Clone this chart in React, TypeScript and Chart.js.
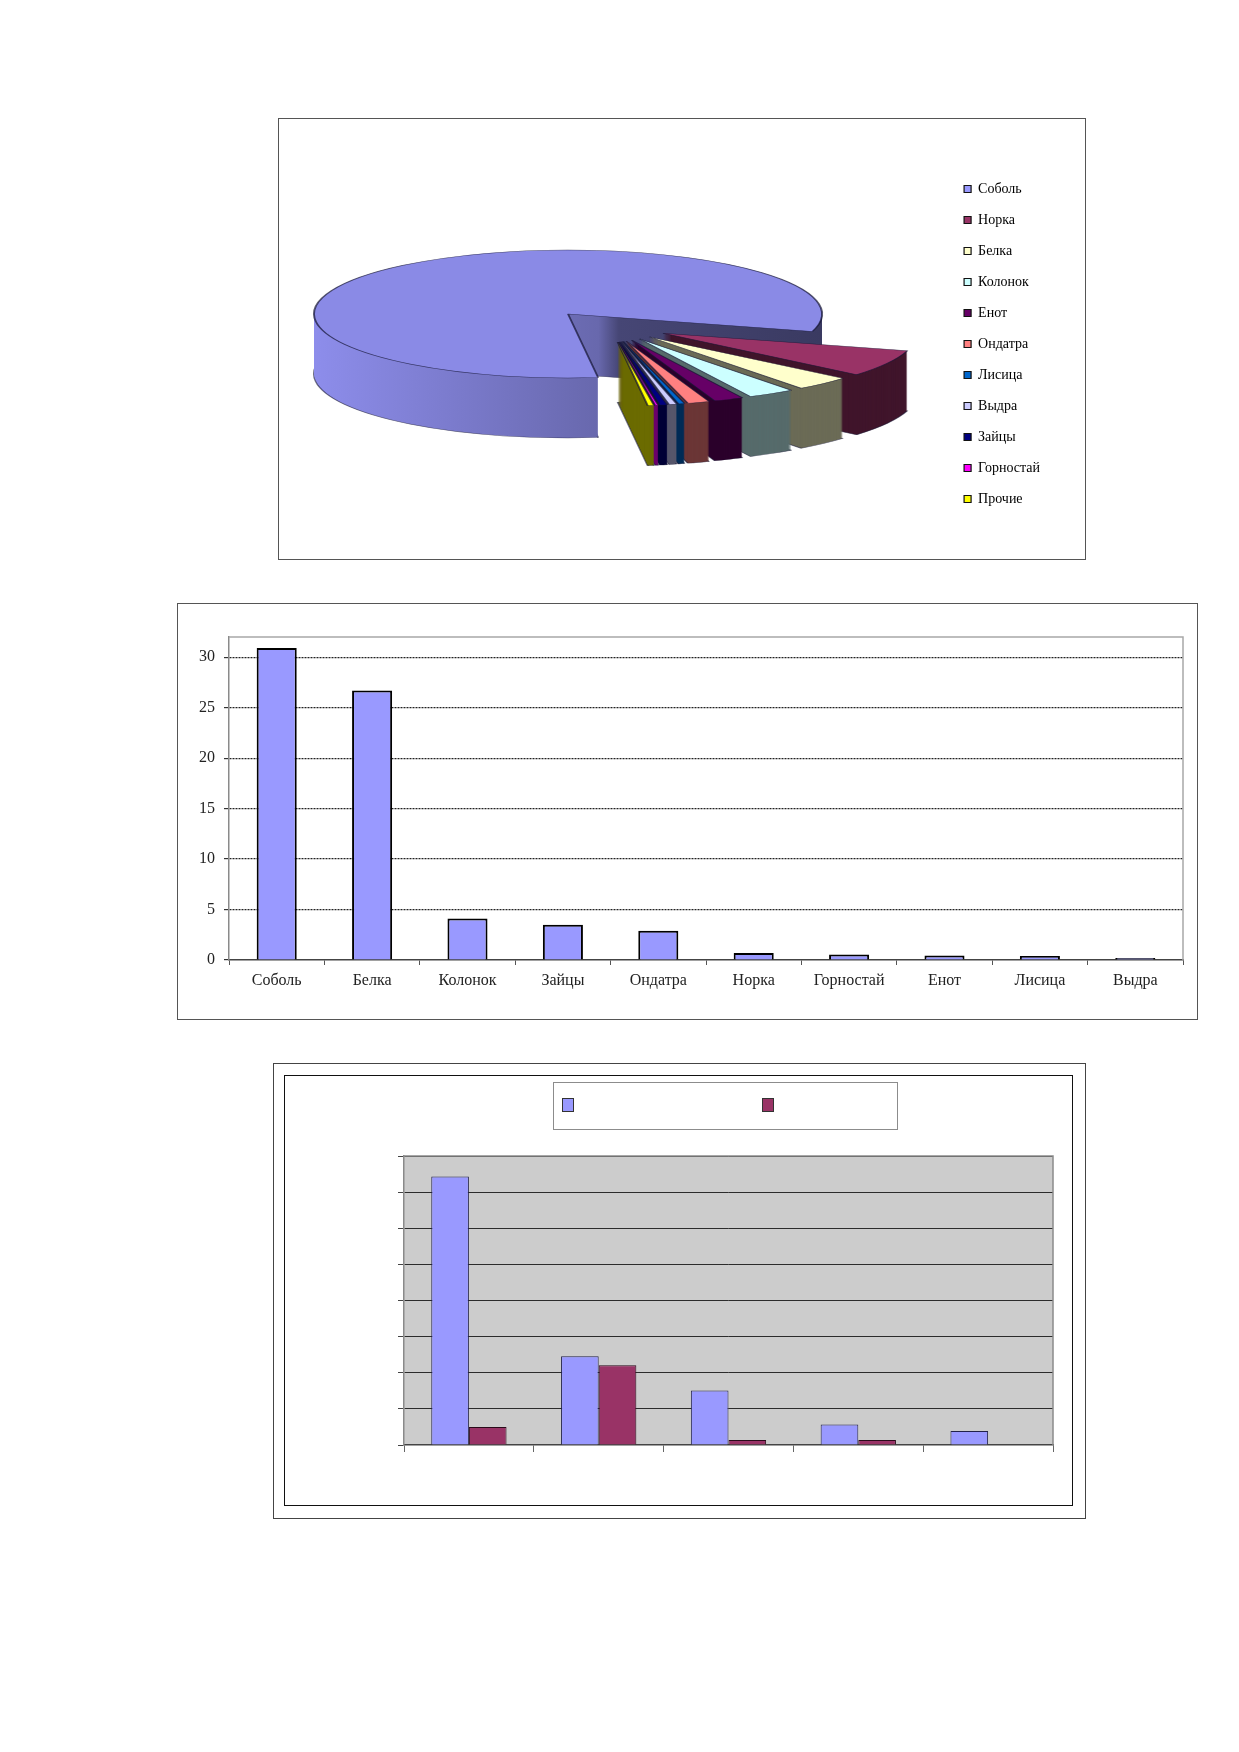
import { useEffect, useRef } from "react";
import type { CSSProperties } from "react";
import { Chart, registerables } from "chart.js";

Chart.register(...registerables);

const FONT = "'Liberation Serif', 'Times New Roman', serif";

// круговая диаграмма: доли видов, %
const pieLabels = ["Соболь", "Норка", "Белка", "Колонок", "Енот", "Ондатра", "Лисица", "Выдра", "Зайцы", "Горностай", "Прочие"];
const pieValues = [81.3, 6.8, 3.6, 3.0, 1.9, 1.4, 0.4, 0.5, 0.5, 0.2, 0.4];
const pieColors = ["#9999FF", "#993366", "#FFFFCC", "#CCFFFF", "#660066", "#FF8080", "#0066CC", "#CCCCFF", "#000080", "#FF00FF", "#FFFF00"];

// столбчатая диаграмма
const barLabels = ["Соболь", "Белка", "Колонок", "Зайцы", "Ондатра", "Норка", "Горностай", "Енот", "Лисица", "Выдра"];
const barValues = [30.9, 26.7, 4.1, 3.5, 2.9, 0.7, 0.55, 0.45, 0.4, 0.2];

// третья диаграмма (подписи в оригинале пропали)
const groupLabels = ["", "", "", "", ""];
const seriesA = [7.43, 2.46, 1.51, 0.57, 0.39];
const seriesB = [0.5, 2.21, 0.14, 0.14, 0];

// 3d look of the pie
const SQUASH = 0.252;
const DEPTH = 60;
const EXPLODE = 122;

function shade(hex: string, f: number) {
  const n = parseInt(hex.slice(1), 16);
  const r = Math.round(((n >> 16) & 255) * f);
  const g = Math.round(((n >> 8) & 255) * f);
  const b = Math.round((n & 255) * f);
  return `rgb(${r},${g},${b})`;
}

const pie3d = {
  id: "pie3d",
  beforeDatasetsDraw(chart: any) {
    const ctx: CanvasRenderingContext2D = chart.ctx;
    const arcs: any[] = chart.getDatasetMeta(0).data;
    if (!arcs.length) return false;
    const cx = arcs[0].x;
    const cy = arcs[0].y;
    const R = arcs[0].outerRadius;
    const topY = cy - DEPTH / 2;
    // exploded slices are pulled out towards the middle of their group (perspective)
    const groupMid = (arcs[1].startAngle + arcs[arcs.length - 1].endAngle) / 2;

    const drawSlice = (i: number, fill: any, stroke: string | null, dy: number) => {
      const arc = arcs[i];
      const mid = (arc.startAngle + arc.endAngle) / 2;
      const dir = (mid + groupMid) / 2;
      const off = i === 0 ? 0 : EXPLODE;
      ctx.save();
      ctx.translate(0, topY + dy);
      ctx.scale(1, SQUASH);
      ctx.translate(0, -cy);
      ctx.translate(Math.cos(dir) * off, Math.sin(dir) * off);
      const ghost = Object.create(arc);
      ghost.options = {
        ...arc.options,
        backgroundColor: fill,
        borderColor: stroke || fill,
        borderWidth: stroke ? 2 : 0,
      };
      ghost.draw(ctx);
      ctx.restore();
    };

    // back to front
    const order = arcs
      .map((_, i) => i)
      .sort((a, b) => {
        const ma = (arcs[a].startAngle + arcs[a].endAngle) / 2;
        const mb = (arcs[b].startAngle + arcs[b].endAngle) / 2;
        return Math.sin(ma) - Math.sin(mb);
      });

    order.forEach((i) => {
      const base = pieColors[i];
      let wall: any = shade(base, 0.42);
      if (i === 0) {
        const g = ctx.createLinearGradient(cx - R, 0, cx + R, 0);
        g.addColorStop(0, shade(base, 0.92));
        g.addColorStop(0.56, shade(base, 0.68));
        g.addColorStop(0.6, shade(base, 0.46));
        g.addColorStop(1, shade(base, 0.38));
        wall = g;
      }
      for (let dy = DEPTH; dy > 0; dy--) {
        drawSlice(i, wall, dy === DEPTH ? "rgba(20,20,50,0.6)" : null, dy);
      }
      drawSlice(i, i === 0 ? shade(base, 0.9) : base, "rgba(20,20,50,0.7)", 0);
    });
    return false;
  },
};

const plotFrame = (bg: string | null, line: string) => ({
  id: "plotFrame",
  beforeDraw(chart: any) {
    if (!bg) return;
    const { ctx, chartArea: a } = chart;
    ctx.save();
    ctx.fillStyle = bg;
    ctx.fillRect(a.left, a.top, a.right - a.left, a.bottom - a.top);
    ctx.restore();
  },
  afterDatasetsDraw(chart: any) {
    const { ctx, chartArea: a } = chart;
    ctx.save();
    ctx.strokeStyle = line;
    ctx.lineWidth = 1.5;
    ctx.beginPath();
    ctx.moveTo(a.left, a.top);
    ctx.lineTo(a.right, a.top);
    ctx.lineTo(a.right, a.bottom);
    ctx.stroke();
    ctx.restore();
  },
});

const pieConfig = (): any => ({
  type: "pie",
  data: {
    labels: pieLabels,
    datasets: [
      {
        data: pieValues,
        backgroundColor: pieColors,
        borderColor: "#111",
        borderWidth: 1.2,
        rotation: 173.2,
        radius: 254,
      },
    ],
  },
  options: {
    animation: false,
    responsive: true,
    maintainAspectRatio: false,
    rotation: 173.2,
    radius: 254,
    plugins: {
      legend: {
        position: "right",
        labels: {
          boxWidth: 7,
          boxHeight: 7,
          padding: 17,
          color: "#000",
          font: { family: FONT, size: 14 },
        },
      },
      tooltip: { enabled: false },
    },
  },
  plugins: [pie3d],
});

const barConfig = (): any => ({
  type: "bar",
  data: {
    labels: barLabels,
    datasets: [
      {
        data: barValues,
        backgroundColor: "#9999FF",
        borderColor: "#000",
        borderWidth: 2,
        barPercentage: 0.42,
        categoryPercentage: 1,
      },
    ],
  },
  options: {
    animation: false,
    responsive: true,
    maintainAspectRatio: false,
    layout: { padding: { left: 0, top: 33, right: 13, bottom: 0 } },
    plugins: { legend: { display: false }, tooltip: { enabled: false } },
    scales: {
      x: {
        grid: { drawOnChartArea: false, drawTicks: true, tickLength: 5, color: "#555", offset: true },
        border: { color: "#444", width: 1.5 },
        ticks: { color: "#222", font: { family: FONT, size: 16 }, padding: 6, maxRotation: 0, autoSkip: false },
        afterFit: (s: any) => {
          s.height = 58;
        },
      },
      y: {
        min: 0,
        max: 32,
        ticks: { stepSize: 5, includeBounds: false, color: "#222", font: { family: FONT, size: 16 }, padding: 9 },
        grid: {
          color: (c: any) => (c.tick && c.tick.value === 0 ? "rgba(0,0,0,0)" : "#222"),
          lineWidth: 1.2,
          tickColor: "#333",
          tickLength: 5,
        },
        border: { color: "#8a8a8a", width: 1.5, dash: [2, 1] },
        afterFit: (s: any) => {
          s.width = 51;
        },
      },
    },
  },
  plugins: [plotFrame(null, "#a8a8a8")],
});

const groupConfig = (): any => ({
  type: "bar",
  data: {
    labels: groupLabels,
    datasets: [
      {
        label: "",
        data: seriesA,
        backgroundColor: "#9999FF",
        borderColor: "#22224a",
        borderWidth: 1,
        categoryPercentage: 0.58,
        barPercentage: 1,
      },
      {
        label: "",
        data: seriesB,
        backgroundColor: "#993366",
        borderColor: "#2a0a1a",
        borderWidth: 1,
        categoryPercentage: 0.58,
        barPercentage: 1,
      },
    ],
  },
  options: {
    animation: false,
    responsive: true,
    maintainAspectRatio: false,
    layout: { padding: { left: 111, top: 80, right: 18, bottom: 49 } },
    plugins: { legend: { display: false }, tooltip: { enabled: false } },
    scales: {
      x: {
        grid: { drawOnChartArea: false, drawTicks: true, tickLength: 7, color: "#666", offset: true },
        border: { color: "#444", width: 1.5 },
        ticks: { display: false },
        afterFit: (s: any) => {
          s.height = 10;
        },
      },
      y: {
        min: 0,
        max: 8,
        ticks: { display: false, stepSize: 1 },
        grid: {
          color: (c: any) => (c.tick && c.tick.value === 0 ? "rgba(0,0,0,0)" : "#2b2b2b"),
          tickColor: "#444",
          tickLength: 6,
        },
        border: { color: "#8a8a8a", width: 1.5 },
        afterFit: (s: any) => {
          s.width = 8;
        },
      },
    },
  },
  plugins: [plotFrame("#cccccc", "#8a8a8a")],
});

function ChartCanvas({ style, config }: { style: CSSProperties; config: () => any }) {
  const ref = useRef<HTMLCanvasElement>(null);

  useEffect(() => {
    let chart: Chart | null = null;
    if (ref.current) {
      chart = new Chart(ref.current, config());
    }
    return () => {
      if (chart) chart.destroy();
    };
  }, []);

  return (
    <div style={{ position: "absolute", ...style }}>
      <canvas ref={ref} />
    </div>
  );
}

function Frame({ l, t, r, b, border }: { l: number; t: number; r: number; b: number; border: string }) {
  return (
    <div
      style={{
        position: "absolute",
        left: l,
        top: t,
        width: r - l,
        height: b - t,
        border,
        boxSizing: "border-box",
      }}
    />
  );
}

export default function App() {
  return (
    <div
      style={{
        position: "absolute",
        left: 0,
        top: 0,
        width: 1239,
        height: 1752,
        background: "#fff",
        fontFamily: FONT,
      }}
    >
      {/* pie */}
      <Frame l={278} t={118} r={1086} b={560} border="1.5px solid #555" />
      <ChartCanvas style={{ left: 189, top: 129, width: 861, height: 430 }} config={pieConfig} />

      {/* bars */}
      <Frame l={177} t={603} r={1198} b={1020} border="1.5px solid #555" />
      <ChartCanvas style={{ left: 178, top: 604, width: 1018, height: 414 }} config={barConfig} />

      {/* grouped bars */}
      <Frame l={273} t={1063} r={1086} b={1519} border="1.5px solid #444" />
      <Frame l={284} t={1075} r={1073} b={1506} border="1.5px solid #111" />
      <ChartCanvas style={{ left: 285, top: 1076, width: 786, height: 428 }} config={groupConfig} />
      <div
        style={{
          position: "absolute",
          left: 553,
          top: 1082,
          width: 345,
          height: 48,
          border: "1.5px solid #8c8c8c",
          boxSizing: "border-box",
        }}
      >
        <div style={{ position: "absolute", left: 8, top: 15, width: 12, height: 14, background: "#9999FF", border: "1px solid #333", boxSizing: "border-box" }} />
        <div style={{ position: "absolute", left: 208, top: 15, width: 12, height: 14, background: "#993366", border: "1px solid #333", boxSizing: "border-box" }} />
      </div>
    </div>
  );
}
